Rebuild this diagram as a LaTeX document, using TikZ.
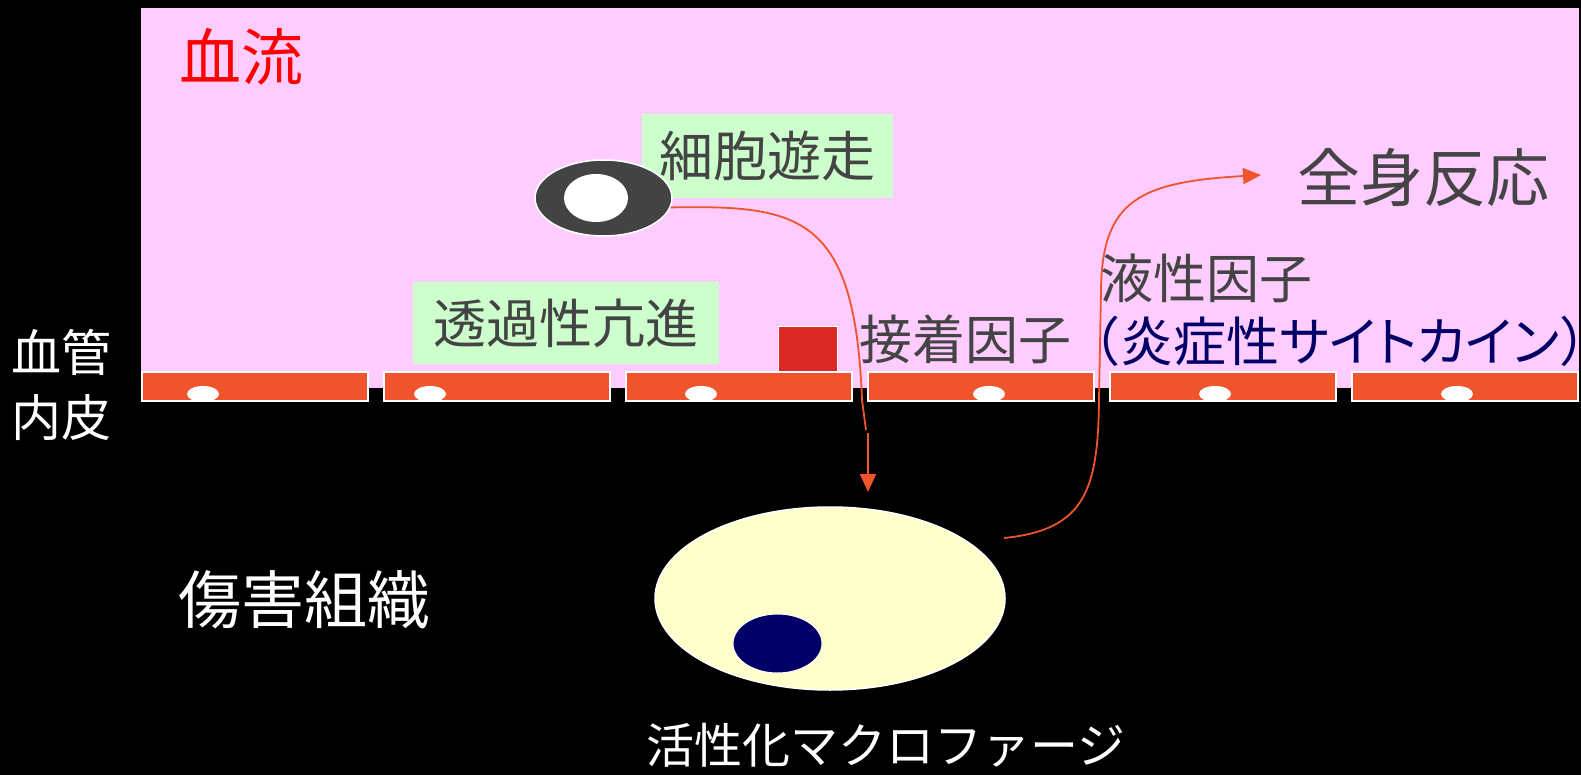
\documentclass[tikz,border=0pt]{standalone}
\usepackage{fontspec}
\usepackage{tikz}
\usetikzlibrary{shapes.geometric}
\usetikzlibrary{arrows.meta}
\usepackage{xcolor}

\newfontfamily\jp{Noto Sans CJK JP}
\newfontfamily\jpprop[RawFeature=+palt]{Noto Sans CJK JP}
\newcommand{\jsize}[1]{\fontsize{#1}{#1}\selectfont}

\definecolor{blood}{HTML}{FFCCFF}
\definecolor{tagbg}{HTML}{CCFFCC}
\definecolor{endo}{HTML}{F0542C}
\definecolor{adhesion}{HTML}{DD2A28}
\definecolor{wbc}{HTML}{434343}
\definecolor{macro}{HTML}{FFFFCC}
\definecolor{navy}{HTML}{000066}
\definecolor{txt}{HTML}{444444}

\begin{document}
\begin{tikzpicture}[x=1pt, y=-1pt,
  every node/.style={inner sep=0pt, font=\jp},
  blob/.style={ellipse, draw=white, line width=1.5pt},
  greenbox/.style={fill=tagbg, text=txt},
  flow/.style={endo, line width=1.8pt}]

\useasboundingbox (0,0) rectangle (1581,775);
\fill[black] (0,0) rectangle (1581,775);

% blood stream
\fill[blood] (141,8) rectangle (1579,388);

% endothelium, one cell every 242
\foreach \i/\nx in {0/203,1/430,2/701,3/989,4/1215,5/1457}{
  \draw[white, line width=1.5pt, fill=endo] (142+242*\i,372) rectangle ++(226,29);
  \fill[white] (\nx,394) ellipse [x radius=16, y radius=8];
}

% adhesion molecule
\node[draw=white, line width=1pt, fill=adhesion, minimum width=59pt, minimum height=44pt] (adh) at (807.5,349) {};

% green labels
{
\node[greenbox, minimum width=251pt, minimum height=84pt] (mig) at (767.5,156) {\jsize{54}細胞遊走};
\node[greenbox, minimum width=306pt, minimum height=82pt] (perm) at (566,323) {\jsize{53}透過性亢進};
}

% leukocyte
\node[blob, fill=wbc, minimum width=137pt, minimum height=76pt] (wbc) at (603.5,198) {};
\fill[white] (596,198) ellipse [x radius=32, y radius=24];

% macrophage
\node[blob, fill=macro, minimum width=350pt, minimum height=183pt] (mac) at (830,598.5) {};
\node[blob, fill=navy, line width=1pt, minimum width=89pt, minimum height=59pt] (nuc) at (777.5,643.5) {};

% arrows
\coordinate (cross) at (866,430);
\coordinate (entry) at (868,492);
\coordinate (release) at (1004,538);
\coordinate (outflow) at (1261,175);

\draw[flow] (wbc.-8) .. controls (800,205) and (855,215) .. (862,400) -- (cross);
\draw[flow, -{Triangle[width=16pt,length=18pt]}] ([yshift=-3pt]cross -| entry) -- (entry);
\draw[flow, -{Triangle[width=16pt,length=18pt]}] (release) .. controls (1085,530) and (1098,490) .. (1099,400)
  -- (1101,290) .. controls (1102,200) and (1140,182) .. (outflow);

% nodes
{
\node[text=red] (stream) at (241,57) {\jsize{62}血流};
\node[text=white, align=center, font={\jp\fontsize{50}{65}\selectfont}] (wall) at (61,384.5) {血管\\内皮};
\node[text=white] (tissue) at (304,600) {\jsize{63}傷害組織};
\node[text=white] (macname) at (886,745) {\jsize{48}活性化マクロファージ};
\node[text=txt] (systemic) at (1423,178) {\jsize{63}全身反応};
\node[text=txt] (adhname) at (965,339) {\jsize{53}接着因子};
\node[text=txt] (humoral) at (1206.5,278) {\jsize{53}液性因子};
\node[text=navy] (cytokine) at (1340,341) {\jsize{53}（\jpprop 炎症性サイトカイン\jp ）};
}

\end{tikzpicture}
\end{document}
